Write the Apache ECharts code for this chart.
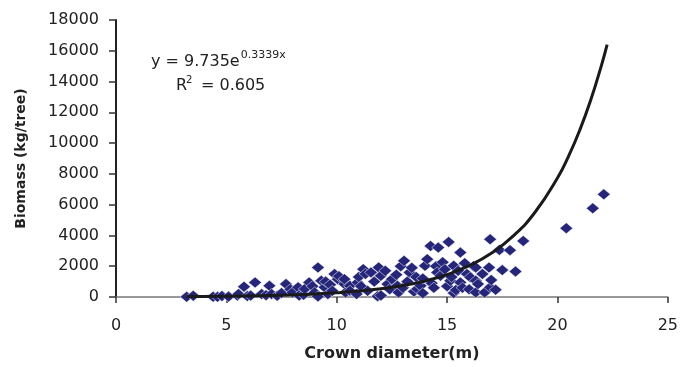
<!DOCTYPE html>
<html>
<head>
<meta charset="utf-8">
<script src="https://cdn.jsdelivr.net/npm/echarts@6/dist/echarts.min.js"></script>
<style>
  html, body { margin: 0; padding: 0; background: #fff; }
  #chart { width: 681px; height: 367px; }
</style>
</head>
<body>
<div id="chart"></div>
<script>
// Crown diameter (m) of each sampled tree
const crownDiameter = [
  3.2, 3.5, 4.4, 4.6, 4.8, 5.1, 5.5, 5.55, 5.8, 5.95, 6.1, 6.3, 6.6, 6.8, 6.95, 7.05,
  7.3, 7.5, 7.7, 7.9, 8.0, 8.25, 8.3, 8.5, 8.55, 8.75, 8.9, 9.0, 9.15, 9.15, 9.3, 9.45,
  9.5, 9.6, 9.7, 9.8, 9.9, 10.05, 10.1, 10.35, 10.35, 10.4, 10.6, 10.6, 10.9, 10.95,
  11.0, 11.1, 11.2, 11.3, 11.4, 11.55, 11.7, 11.85, 11.9, 12.0, 12.0, 12.2, 12.3, 12.4,
  12.5, 12.7, 12.75, 12.8, 12.9, 13.0, 13.05, 13.2, 13.3, 13.4, 13.5, 13.6, 13.65, 13.8,
  13.9, 13.9, 14.0, 14.1, 14.25, 14.3, 14.4, 14.5, 14.55, 14.6, 14.7, 14.8, 14.9, 15.0,
  15.07, 15.15, 15.2, 15.3, 15.3, 15.4, 15.5, 15.6, 15.6, 15.7, 15.8, 15.9, 16.0, 16.05,
  16.2, 16.3, 16.3, 16.3, 16.4, 16.6, 16.7, 16.9, 16.95, 16.95, 17.0, 17.2, 17.37, 17.5,
  17.85, 18.1, 18.45, 20.4, 21.6, 22.1
];
// Above-ground biomass (kg/tree), same order as crownDiameter
const biomass = [
  10, 80, 20, 10, 60, 30, 90, 190, 670, 60, 90, 950, 190, 120, 730, 190,
  80, 260, 840, 500, 300, 630, 100, 150, 520, 950, 700, 300, 1920, 40, 1060, 630,
  1000, 190, 800, 400, 1490, 1160, 1350, 840, 1160, 300, 730, 400, 190, 950,
  1300, 700, 1810, 1500, 400, 1600, 1000, 50, 1920, 1380, 100, 1700, 840, 500,
  1160, 1450, 730, 300, 2000, 600, 2350, 1000, 1600, 1900, 350, 1300, 520, 730,
  250, 1200, 2030, 2460, 3320, 900, 600, 2000, 1600, 3210, 1380, 2260, 1800, 700,
  3580, 1060, 1300, 2030, 260, 450, 1700, 2890, 950, 600, 2200, 1490, 500, 1280,
  2000, 1920, 1060, 300, 840, 1500, 300, 1920, 3750, 630, 1100, 470, 3060, 1750,
  3040, 1660, 3640, 4470, 5760, 6670
];
// Exponential fit y = a * e^(b x)
const fitA = 9.735;
const fitB = 0.3339;
const fitX = [3.2, 4, 5, 6, 7, 8, 9, 10, 11, 12, 13, 14, 15, 16, 17, 18, 19, 20, 20.5, 21, 21.5, 22, 22.25];
const xTicks = [0, 5, 10, 15, 20, 25];
const yTicks = [0, 2000, 4000, 6000, 8000, 10000, 12000, 14000, 16000, 18000];

const points = crownDiameter.map((d, i) => [d, biomass[i]]);
const fitLine = fitX.map(x => [x, fitA * Math.exp(fitB * x)]);

const chart = echarts.init(document.getElementById('chart'));
const textColor = '#222';
const fontFamily = '"DejaVu Sans", "Liberation Sans", Arial, sans-serif';

// width of a text run, used to butt superscripts against their base text
const measureCtx = document.createElement('canvas').getContext('2d');
function textWidth(text, size) {
  measureCtx.font = size + 'px ' + fontFamily;
  return measureCtx.measureText(text).width;
}

function eqText(text, x, y, size) {
  return {
    type: 'text', x, y,
    style: { text, fontFamily, fontSize: size, fill: textColor, verticalAlign: 'middle', align: 'left' }
  };
}

const eqBase = 'y = 9.735e';
const eqX = 151;
const r2X = 176;

chart.setOption({
  animation: false,
  backgroundColor: '#fff',
  grid: { left: 116, right: 12, top: 20, bottom: 69, containLabel: false },
  xAxis: {
    type: 'value',
    min: xTicks[0], max: xTicks[xTicks.length - 1], interval: 5,
    name: 'Crown diameter(m)',
    nameLocation: 'middle', nameGap: 49,
    nameTextStyle: { fontFamily, fontSize: 16, fontWeight: 'bold', color: textColor },
    axisLine: { lineStyle: { color: '#777', width: 1.5 } },
    axisTick: { show: true, length: 6, lineStyle: { color: '#333', width: 1.5 } },
    axisLabel: { fontFamily, fontSize: 16, color: textColor, margin: 21, formatter: v => String(v) },
    splitLine: { show: false }
  },
  yAxis: {
    type: 'value',
    min: yTicks[0], max: yTicks[yTicks.length - 1], interval: 2000,
    name: 'Biomass (kg/tree)',
    nameLocation: 'middle', nameGap: 88,
    nameTextStyle: { fontFamily, fontSize: 14, fontWeight: 'bold', color: textColor },
    axisLine: { show: true, lineStyle: { color: '#222', width: 2 } },
    axisTick: { show: true, length: 7, lineStyle: { color: '#333', width: 1.5 } },
    axisLabel: { fontFamily, fontSize: 16, color: textColor, margin: 17, formatter: v => String(v) },
    splitLine: { show: false }
  },
  series: [
    {
      type: 'scatter',
      data: points,
      symbol: 'diamond',
      symbolSize: [13, 11],
      itemStyle: { color: '#25267a', opacity: 1, borderColor: '#ffffff', borderWidth: 0.5 },
      z: 2
    },
    {
      type: 'line',
      data: fitLine,
      smooth: true,
      showSymbol: false,
      lineStyle: { color: '#1a1a1a', width: 3 },
      z: 3
    }
  ],
  graphic: [
    eqText(eqBase, eqX, 62, 16),
    eqText('0.3339x', eqX + textWidth(eqBase, 16) + 1, 55, 11),
    eqText('R', r2X, 86, 16),
    eqText('2', r2X + textWidth('R', 16) - 1, 80, 10),
    eqText('= 0.605', 201, 86, 16)
  ]
});
</script>
</body>
</html>
